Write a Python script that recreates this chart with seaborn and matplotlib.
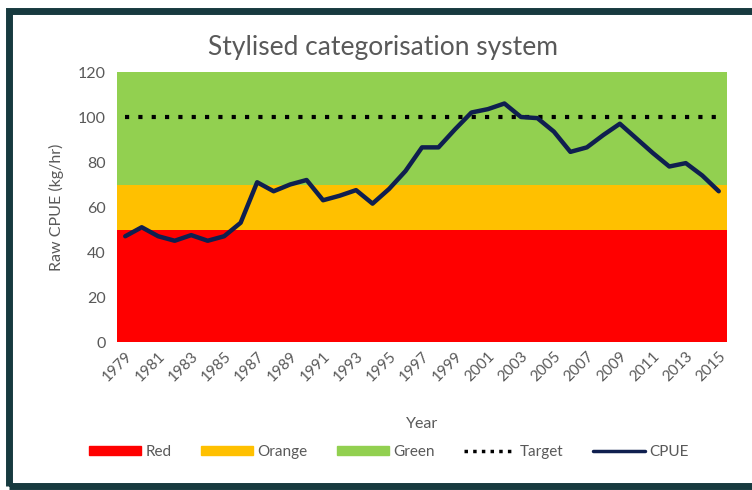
import numpy as np
import pandas as pd
import matplotlib
matplotlib.use("Agg")
import matplotlib.pyplot as plt
from matplotlib.patches import Patch, Rectangle
from matplotlib.lines import Line2D
import seaborn as sns

years = list(range(1979, 2016))
cpue = [47, 51, 47, 45, 47.5, 45, 47, 53, 71, 67,
        70, 72, 63, 65, 67.5, 61.5, 68, 76, 86.5, 86.5,
        94.5, 102, 103.5, 106, 100, 99.5, 93.5, 84.5, 86.5, 92,
        97, 90.5, 84, 78, 79.5, 74, 67]
target = [100] * len(years)

band_names = ["Red", "Orange", "Green"]
band_heights = [50, 20, 50]
band_colors = ["#FF0000", "#FFC000", "#92D050"]

tick_years = years[::2]

df = pd.DataFrame({"Year": years, "CPUE": cpue, "Target": target})

sns.set_theme(style="white")
plt.rcParams["font.family"] = ["Lato", "DejaVu Sans"]
text_col = "#595959"

fig = plt.figure(figsize=(7.52, 4.90), dpi=100)
ax = fig.add_axes([117 / 752, 1 - 342 / 490, 610 / 752, 270 / 490])

# stacked category bands
bottom = np.zeros(len(years))
for name, h, c in zip(band_names, band_heights, band_colors):
    hs = np.full(len(years), h, dtype=float)
    ax.bar(years, hs, bottom=bottom, width=1.0, color=c, linewidth=0, label=name)
    bottom += hs

sns.lineplot(data=df, x="Year", y="Target", ax=ax, color="black",
             linestyle=(0, (1, 2.2)), linewidth=3, label="Target")
sns.lineplot(data=df, x="Year", y="CPUE", ax=ax, color="#0F1F4F",
             linewidth=3.2, label="CPUE")

ax.set_xlim(years[0] - 0.5, years[-1] + 0.5)
ax.set_ylim(0, 120)
ax.set_yticks(range(0, 121, 20))
ax.set_xticks(tick_years)
ax.set_xticklabels([str(y) for y in tick_years], rotation=45, ha="right",
                   rotation_mode="anchor", fontsize=11, color=text_col)
ax.tick_params(axis="y", labelsize=11.5, labelcolor=text_col, pad=8, length=0)
ax.tick_params(axis="x", pad=5, length=0)
for s in ax.spines.values():
    s.set_visible(False)

ax.set_xlabel("Year", fontsize=11.5, color=text_col, labelpad=24)
ax.set_ylabel("Raw CPUE (kg/hr)", fontsize=11.5, color=text_col, labelpad=10)
fig.text(383 / 752, 1 - 47 / 490, "Stylised categorisation system",
         ha="center", va="center", fontsize=19, color=text_col)

handles = [Patch(color=c) for c in band_colors]
handles += [Line2D([], [], color="black", linestyle=(0, (1, 1.5)), linewidth=2.5),
            Line2D([], [], color="#0F1F4F", linewidth=2.5)]
labels = band_names + ["Target", "CPUE"]
ax.legend(handles, labels, loc="center", bbox_to_anchor=(389 / 752, 1 - 452 / 490),
          bbox_transform=fig.transFigure, ncol=5, frameon=False, fontsize=11,
          handlelength=3.4, handleheight=0.55, columnspacing=1.9, handletextpad=0.3,
          labelcolor=text_col)

# screenshot frame
fig.patches.append(Rectangle((9 / 752, 4 / 490), 1.2, 1 - 15 / 490,
                             transform=fig.transFigure, fill=False,
                             edgecolor="#173A3F", linewidth=5, zorder=10))

fig.savefig("out.png", dpi=100)
